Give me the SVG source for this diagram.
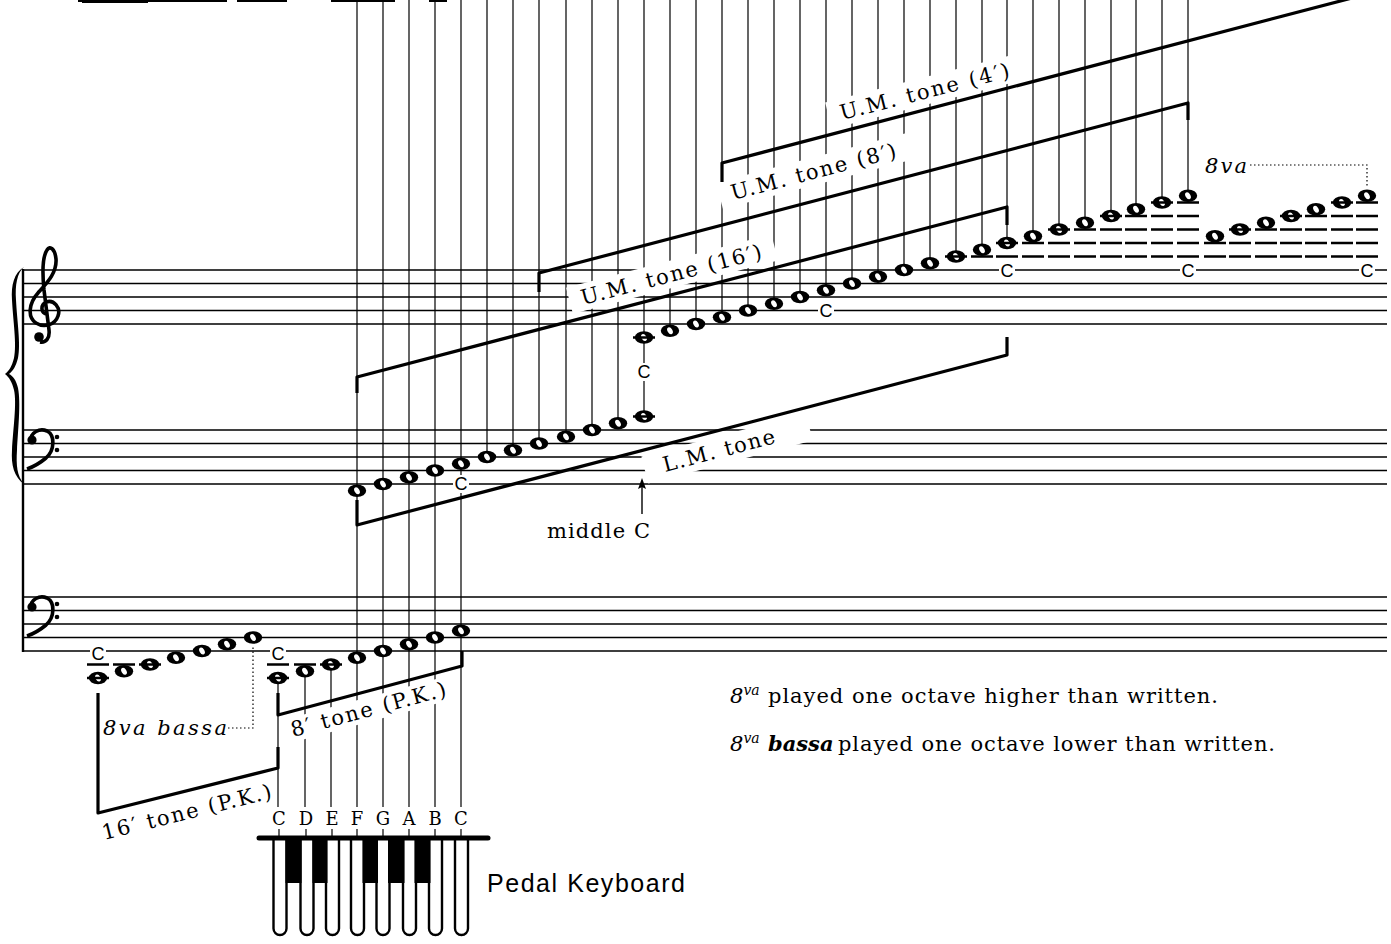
<svg xmlns="http://www.w3.org/2000/svg" width="1391" height="944" viewBox="0 0 1391 944">
<defs>
<style>
.st{stroke:#000;stroke-width:1.5;fill:none}
.vl{stroke:#000;stroke-width:1.2;fill:none}
.br{stroke:#000;stroke-width:3.2;fill:none;stroke-linejoin:round}
.lg{stroke:#000;stroke-width:2.6;fill:none}
.dt{stroke:#000;stroke-width:1.2;fill:none;stroke-dasharray:1.5 2.5}
.bg{fill:#fff}
.lbl{font-family:"DejaVu Serif","Liberation Serif",serif;font-size:21px;fill:#000}
.cl{font-family:"Liberation Sans",Arial,sans-serif;font-size:18px;text-anchor:middle;fill:#000}
.kl{font-family:"DejaVu Serif","Liberation Serif",serif;font-size:18px;text-anchor:middle;fill:#000}
.it{font-style:italic}
.key{fill:#fff;stroke:#000;stroke-width:2.4}
</style>
<g id="n"><ellipse rx="9.2" ry="6.2" fill="#000"/><ellipse rx="2.4" ry="3.8" transform="rotate(-30)" fill="#fff"/></g>
</defs>
<rect width="1391" height="944" fill="#fff"/>

<g id="top-remnants">
<path d="M78 1H227M237 1H287M331 1H395M429 1H447" stroke="#000" stroke-width="2"/>
<path d="M82 1.5H148" stroke="#000" stroke-width="3"/>
</g>

<g id="staves">
<path class="st" d="M23 270H1387M23 283.5H1387M23 297H1387M23 310.5H1387M23 324H1387"/>
<path class="st" d="M23 430H1387M23 443.5H1387M23 457H1387M23 470.5H1387M23 484H1387"/>
<path class="st" d="M23 597H1387M23 610.5H1387M23 624H1387M23 637.5H1387M23 651H1387"/>
<path d="M23 269V652" stroke="#000" stroke-width="2.4"/>
<path id="brace" fill="#000" d="M24 267C14 273 11 285 12 300C13 320 17 345 14 358C12 366 9 371 5 374C9 377 12 382 14 390C17 403 13 430 12 450C11 465 14 477 24 484C17 476 16 465 17 450C18 430 21 403 18 388C16 380 13 376 9 374C13 371 16 366 18 358C21 345 17 320 16 300C15 285 17 273 24 267Z"/>
<g id="treble-clef">
<path d="M47 314C41 314 40 305 46 302C54 299 61 308 58 316C55 325 44 328 36 323C27 317 29 303 38 293C47 283 57 273 56 259C55 249 50 245 47 250C43 256 42 270 44 290L49 330C50 338 46 343 40 342" fill="none" stroke="#000" stroke-width="3.6"/>
<circle cx="39" cy="337" r="4.8"/>
</g>
<g id="bass-clef-lm">
<path d="M31 441C30 432 40 428 47 431C55 435 55 450 46 458C40 463 33 467 27 469" fill="none" stroke="#000" stroke-width="3.6"/>
<circle cx="32" cy="440" r="4.6"/><circle cx="57" cy="437" r="2.3"/><circle cx="57" cy="450" r="2.3"/>
</g>
<g id="bass-clef-pk" transform="translate(0 167)">
<path d="M31 441C30 432 40 428 47 431C55 435 55 450 46 458C40 463 33 467 27 469" fill="none" stroke="#000" stroke-width="3.6"/>
<circle cx="32" cy="440" r="4.6"/><circle cx="57" cy="437" r="2.3"/><circle cx="57" cy="450" r="2.3"/>
</g>
</g>

<g id="connectors">
<path class="vl" d="M357 0V807M383 0V807M409 0V807M435 0V807M461 0V807M487 0V457M513 0V450M539 0V443M566 0V437M592 0V430M618 0V423M644 0V416M670 0V331M696 0V324M722 0V317M748 0V310M774 0V304M800 0V297M826 0V290M852 0V283M878 0V277M904 0V270M930 0V263M956 0V256M982 0V250M1007 0V243M1033 0V236M1059 0V229M1085 0V223M1111 0V216M1136 0V209M1162 0V202M1188 0V196M278 678V807M305 671V807M331 664V807M279 829V836M306 829V836M332 829V836M357 829V836M383 829V836M409 829V836M435 829V836M461 829V836"/>
</g>

<g id="label-um16" transform="translate(583 305) rotate(-14.6)"><rect class="bg" x="-12" y="-21" width="212" height="27"/><text class="lbl" x="0" y="0" textLength="186" lengthAdjust="spacing">U.M. tone (16′)</text></g>
<g id="label-um8" transform="translate(733 200) rotate(-14.6)"><rect class="bg" x="-12" y="-21" width="196" height="27"/><text class="lbl" x="0" y="0" textLength="170" lengthAdjust="spacing">U.M. tone (8′)</text></g>
<g id="label-um4" transform="translate(842 120) rotate(-14.3)"><rect class="bg" x="-12" y="-21" width="200" height="27"/><text class="lbl" x="0" y="0" textLength="174" lengthAdjust="spacing">U.M. tone (4′)</text></g>
<g id="label-lm" transform="translate(665 472) rotate(-14.7)"><rect class="bg" x="-19" y="-21" width="170" height="28"/><text class="lbl" x="0" y="0" textLength="115" lengthAdjust="spacing">L.M. tone</text></g>
<g id="label-8pk" transform="translate(293 737) rotate(-15)"><rect class="bg" x="-6" y="-19" width="172" height="24"/><text class="lbl" x="0" y="0" textLength="160" lengthAdjust="spacing">8′ tone (P.K.)</text></g>
<g id="label-16pk" transform="translate(104 840) rotate(-14)"><rect class="bg" x="-4" y="-19" width="180" height="24"/><text class="lbl" x="0" y="0" textLength="174" lengthAdjust="spacing">16′ tone (P.K.)</text></g>

<g id="c-labels">
<rect class="bg" x="90" y="645" width="16" height="18"/><text class="cl" x="98" y="660">C</text>
<rect class="bg" x="270" y="645" width="16" height="18"/><text class="cl" x="278" y="660">C</text>
<rect class="bg" x="453" y="475" width="16" height="18"/><text class="cl" x="461" y="490">C</text>
<rect class="bg" x="636" y="363" width="16" height="18"/><text class="cl" x="644" y="378">C</text>
<rect class="bg" x="818" y="301.5" width="16" height="18"/><text class="cl" x="826" y="317">C</text>
<rect class="bg" x="999" y="261" width="16" height="18"/><text class="cl" x="1007" y="277">C</text>
<rect class="bg" x="1180" y="261" width="16" height="18"/><text class="cl" x="1188" y="277">C</text>
<rect class="bg" x="1359" y="261" width="16" height="18"/><text class="cl" x="1367" y="277">C</text>
</g>

<g id="brackets">
<path class="br" d="M357 500V525L1007 355V337"/>
<path class="br" d="M357 393V377L1007 207V225"/>
<path class="br" d="M539 292V273L1188 103V120"/>
<path class="br" d="M722 182V163L1371 -7"/>
<path class="br" d="M278 693V715L462 666V651"/>
<path class="br" d="M98 693V813L278 768V747"/>
<path class="dt" d="M228 728H253V645"/>
<path class="dt" d="M1250 165H1367V188"/>
</g>

<g id="notes">
<use href="#n" x="357" y="490.75"/><use href="#n" x="383" y="484"/><use href="#n" x="409" y="477.25"/><use href="#n" x="435" y="470.5"/><use href="#n" x="461" y="463.75"/><use href="#n" x="487" y="457"/><use href="#n" x="513" y="450.25"/><use href="#n" x="539" y="443.5"/><use href="#n" x="566" y="436.75"/><use href="#n" x="592" y="430"/><use href="#n" x="618" y="423.25"/><use href="#n" x="644" y="416.5"/>
<use href="#n" x="644" y="337.5"/><use href="#n" x="670" y="330.75"/><use href="#n" x="696" y="324"/><use href="#n" x="722" y="317.25"/><use href="#n" x="748" y="310.5"/><use href="#n" x="774" y="303.75"/><use href="#n" x="800" y="297"/><use href="#n" x="826" y="290.25"/><use href="#n" x="852" y="283.5"/><use href="#n" x="878" y="276.75"/><use href="#n" x="904" y="270"/><use href="#n" x="930" y="263.25"/><use href="#n" x="956" y="256.5"/><use href="#n" x="982" y="249.75"/><use href="#n" x="1007" y="243"/><use href="#n" x="1033" y="236.25"/><use href="#n" x="1059" y="229.5"/><use href="#n" x="1085" y="222.75"/><use href="#n" x="1111" y="216"/><use href="#n" x="1136" y="209.25"/><use href="#n" x="1162" y="202.5"/><use href="#n" x="1188" y="195.75"/>
<use href="#n" x="1215" y="236.25"/><use href="#n" x="1240" y="229.5"/><use href="#n" x="1266" y="222.75"/><use href="#n" x="1291" y="216"/><use href="#n" x="1316" y="209.25"/><use href="#n" x="1342" y="202.5"/><use href="#n" x="1367" y="195.75"/>
<use href="#n" x="98" y="678"/><use href="#n" x="124" y="671.25"/><use href="#n" x="150" y="664.5"/><use href="#n" x="176" y="657.75"/><use href="#n" x="202" y="651"/><use href="#n" x="227" y="644.25"/><use href="#n" x="253" y="637.5"/>
<use href="#n" x="278" y="678"/><use href="#n" x="305" y="671.25"/><use href="#n" x="331" y="664.5"/><use href="#n" x="357" y="657.75"/><use href="#n" x="383" y="651"/><use href="#n" x="409" y="644.25"/><use href="#n" x="435" y="637.5"/><use href="#n" x="461" y="630.75"/>
<path class="lg" d="M633 337.5H655M633 416.5H655M945 256.5H967M971 256.5H993M996 256.5H1018M996 243H1018M1022 256.5H1044M1022 243H1044M1048 256.5H1070M1048 243H1070M1048 229.5H1070M1074 256.5H1096M1074 243H1096M1074 229.5H1096M1100 256.5H1122M1100 243H1122M1100 229.5H1122M1100 216H1122M1125 256.5H1147M1125 243H1147M1125 229.5H1147M1125 216H1147M1151 256.5H1173M1151 243H1173M1151 229.5H1173M1151 216H1173M1151 202.5H1173M1177 256.5H1199M1177 243H1199M1177 229.5H1199M1177 216H1199M1177 202.5H1199"/>
<path class="lg" d="M1204 256.5H1226M1204 243H1226M1229 256.5H1251M1229 243H1251M1229 229.5H1251M1255 256.5H1277M1255 243H1277M1255 229.5H1277M1280 256.5H1302M1280 243H1302M1280 229.5H1302M1280 216H1302M1305 256.5H1327M1305 243H1327M1305 229.5H1327M1305 216H1327M1331 256.5H1353M1331 243H1353M1331 229.5H1353M1331 216H1353M1331 202.5H1353M1356 256.5H1378M1356 243H1378M1356 229.5H1378M1356 216H1378M1356 202.5H1378"/>
<path class="lg" d="M87 664.5H109M87 678H109M113 664.5H135M139 664.5H161M267 664.5H289M267 678H289M294 664.5H316M320 664.5H342"/>
</g>

<g id="middle-c">
<path d="M642 514V486" stroke="#000" stroke-width="1.4"/>
<path d="M642 478L638 489L642 487L646 489Z" fill="#000"/>
<text class="lbl" x="547" y="538" textLength="103" lengthAdjust="spacing">middle C</text>
</g>

<g id="octave-labels">
<text class="lbl it" x="1205" y="173" font-size="20" textLength="42" lengthAdjust="spacing">8va</text>
<text class="lbl it" x="103" y="735" font-size="20" textLength="124" lengthAdjust="spacing">8va bassa</text>
</g>

<g id="pedal-keyboard">
<text class="kl" x="279" y="825">C</text><text class="kl" x="306" y="825">D</text><text class="kl" x="332" y="825">E</text><text class="kl" x="357" y="825">F</text><text class="kl" x="383" y="825">G</text><text class="kl" x="409" y="825">A</text><text class="kl" x="435" y="825">B</text><text class="kl" x="461" y="825">C</text>
<path class="key" d="M273.5 840V928.5A6.5 6.5 0 0 0 286.5 928.5V840"/>
<path class="key" d="M300.5 840V928.5A6.5 6.5 0 0 0 313.5 928.5V840"/>
<path class="key" d="M326 840V928.5A6.5 6.5 0 0 0 339 928.5V840"/>
<path class="key" d="M351 840V928.5A6.5 6.5 0 0 0 364 928.5V840"/>
<path class="key" d="M376.5 840V928.5A6.5 6.5 0 0 0 389.5 928.5V840"/>
<path class="key" d="M403 840V928.5A6.5 6.5 0 0 0 416 928.5V840"/>
<path class="key" d="M429 840V928.5A6.5 6.5 0 0 0 442 928.5V840"/>
<path class="key" d="M455 840V928.5A6.5 6.5 0 0 0 468 928.5V840"/>
<path fill="#000" d="M285.5 839H301.5V883H285.5ZM312.5 839H327.5V883H312.5ZM362.5 839H378V883H362.5ZM388 839H404.5V883H388ZM414.5 839H430.5V883H414.5Z"/>
<path d="M259 838H488" stroke="#000" stroke-width="5" stroke-linecap="round"/>
<text x="487" y="892" font-family="Liberation Sans, Arial, sans-serif" font-size="25" textLength="198" lengthAdjust="spacing">Pedal Keyboard</text>
</g>

<g id="legend">
<text class="lbl" x="730" y="703" font-size="21"><tspan class="it">8</tspan><tspan class="it" font-size="14" dy="-8">va</tspan><tspan x="768" dy="8" textLength="450" lengthAdjust="spacing">played one octave higher than written.</tspan></text>
<text class="lbl" x="730" y="751" font-size="21"><tspan class="it">8</tspan><tspan class="it" font-size="14" dy="-8">va</tspan><tspan class="it" font-weight="bold" x="768" dy="8">bassa</tspan><tspan x="838" textLength="437" lengthAdjust="spacing">played one octave lower than written.</tspan></text>
</g>
</svg>
